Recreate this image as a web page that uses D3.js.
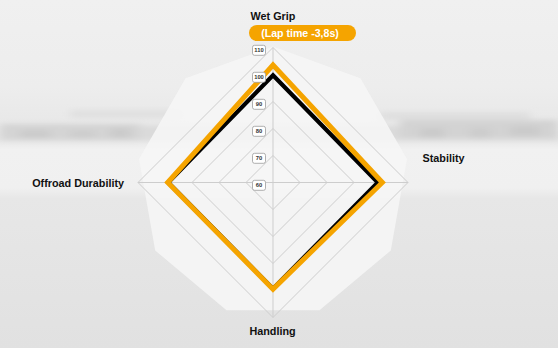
<!DOCTYPE html>
<html>
<head>
<meta charset="utf-8">
<script src="https://cdn.jsdelivr.net/npm/d3@7"></script>
<style>
  html, body { margin: 0; padding: 0; background: #ebebeb; }
  svg { display: block; font-family: "Liberation Sans", Arial, sans-serif; }
</style>
</head>
<body>
<svg id="chart" width="558" height="348"></svg>
<script>
// ---- data ----
const categories = ["Wet Grip", "Stability", "Handling", "Offroad Durability"];
const newTire = [103.5, 100.5, 99.5, 99.0];      // orange
const refTire = [99.7, 98.8, 99.3, 98.8];        // black
const tickValues = [60, 70, 80, 90, 100, 110];
const tickLabels = ["60", "70", "80", "90", "100", "110"];
const badgeText = "(Lap time -3,8s)";

// ---- layout ----
const W = 558, H = 348;
const cx = 273, cy = 182.5, R = 135;
const svg = d3.select("#chart");

const rScale = d3.scaleLinear().domain([60, 110]).range([0, R]);
const angle = d3.scaleBand().domain(categories).range([0, 2 * Math.PI]).align(0).paddingInner(0).paddingOuter(0);
const ang = c => angle(c);

// ---- background ----
const defs = svg.append("defs");
const bg = defs.append("linearGradient").attr("id", "bg").attr("x1", 0).attr("y1", 0).attr("x2", 0).attr("y2", 1);
[[0, "#f0f0f0"], [0.25, "#ededed"], [0.40, "#e6e6e6"], [0.43, "#f1f1f1"], [0.54, "#f0f0f0"], [0.57, "#e7e7e7"], [1, "#e1e1e1"]]
  .forEach(([o, c]) => bg.append("stop").attr("offset", o).attr("stop-color", c));
defs.append("filter").attr("id", "blur").attr("x", "-20%").attr("y", "-100%").attr("width", "140%").attr("height", "300%")
  .append("feGaussianBlur").attr("stdDeviation", "5 2.5");

svg.append("rect").attr("width", W).attr("height", H).attr("fill", "url(#bg)");
const streaks = svg.append("g").attr("filter", "url(#blur)");
const streakData = [
  [0, 126, 558, 14, "#dadada"], [0, 124, 140, 16, "#d4d4d4"], [400, 120, 158, 18, "#d3d3d3"],
  [20, 130, 30, 8, "#cbcbcb"], [70, 130, 25, 8, "#cdcdcd"], [110, 128, 20, 10, "#cbcbcb"],
  [420, 128, 24, 10, "#cacaca"], [470, 128, 20, 10, "#cccccc"], [510, 126, 30, 10, "#cbcbcb"],
  [70, 110, 110, 8, "#e0e0e0"], [380, 112, 150, 8, "#dfdfdf"]
];
streaks.selectAll("rect").data(streakData).join("rect")
  .attr("x", d => d[0]).attr("y", d => d[1]).attr("width", d => d[2]).attr("height", d => d[3]).attr("fill", d => d[4]);

// ---- nonagon backdrop ----
const nonaR = R + 1;
const nonaPts = d3.range(9).map(i => {
  const a = i * 2 * Math.PI / 9;
  return [cx + nonaR * Math.sin(a), cy - nonaR * Math.cos(a)];
});
svg.append("polygon").attr("points", nonaPts.map(p => p.join(",")).join(" "))
  .attr("fill", "#f6f6f6").attr("fill-opacity", 0.88);

const g = svg.append("g").attr("transform", `translate(${cx},${cy})`);

// ---- grid rings ----
const radial = d3.lineRadial().angle(d => d[0]).radius(d => d[1]).curve(d3.curveLinearClosed);
tickValues.slice(1).forEach(v => {
  g.append("path").attr("d", radial(categories.map(c => [ang(c), rScale(v)])))
    .attr("fill", "none").attr("stroke", "#cdcdcd").attr("stroke-width", 1);
});
// axes
categories.forEach(c => {
  const a = ang(c);
  g.append("line").attr("x1", 0).attr("y1", 0)
    .attr("x2", rScale(110) * Math.sin(a)).attr("y2", -rScale(110) * Math.cos(a))
    .attr("stroke", "#cdcdcd").attr("stroke-width", 1);
});

// ---- series ----
const seriesLine = vals => radial(categories.map((c, i) => [ang(c), rScale(vals[i])]));
g.append("path").attr("d", seriesLine(refTire))
  .attr("fill", "none").attr("stroke", "#000").attr("stroke-width", 4.2).attr("stroke-linejoin", "miter");
g.append("path").attr("d", seriesLine(newTire))
  .attr("fill", "none").attr("stroke", "#f5a400").attr("stroke-width", 5).attr("stroke-linejoin", "miter");

// ---- tick label boxes ----
const ticks = g.selectAll("g.tick").data(tickValues).join("g").attr("class", "tick")
  .attr("transform", d => `translate(-14,${-rScale(d) + 2.8})`);
ticks.append("rect").attr("x", -6.5).attr("y", -5).attr("width", 13).attr("height", 10).attr("rx", 2)
  .attr("fill", "#fff").attr("stroke", "#9c9c9c").attr("stroke-width", 0.8);
ticks.append("text").text((d, i) => tickLabels[i])
  .attr("text-anchor", "middle").attr("dy", "0.35em")
  .attr("font-size", 5.8).attr("font-weight", "bold").attr("fill", "#333");

// ---- category labels ----
const labelPos = {
  "Wet Grip": [273, 16, "middle"],
  "Stability": [422.5, 158.5, "start"],
  "Handling": [272.5, 331.5, "middle"],
  "Offroad Durability": [124, 183, "end"]
};
svg.selectAll("text.cat").data(categories).join("text").attr("class", "cat")
  .attr("x", d => labelPos[d][0]).attr("y", d => labelPos[d][1])
  .attr("text-anchor", d => labelPos[d][2]).attr("dy", "0.35em")
  .attr("font-size", 10.8).attr("font-weight", "bold").attr("fill", "#111")
  .text(d => d);

// ---- badge ----
const badge = svg.append("g");
badge.append("rect").attr("x", 249).attr("y", 25).attr("width", 107).attr("height", 16).attr("rx", 8)
  .attr("fill", "#f5a400");
badge.append("text").attr("x", 300).attr("y", 33).attr("dy", "0.35em").attr("text-anchor", "middle")
  .attr("font-size", 10.6).attr("fill", "#fff").attr("font-weight", "bold")
  .text(badgeText);
</script>
</body>
</html>
